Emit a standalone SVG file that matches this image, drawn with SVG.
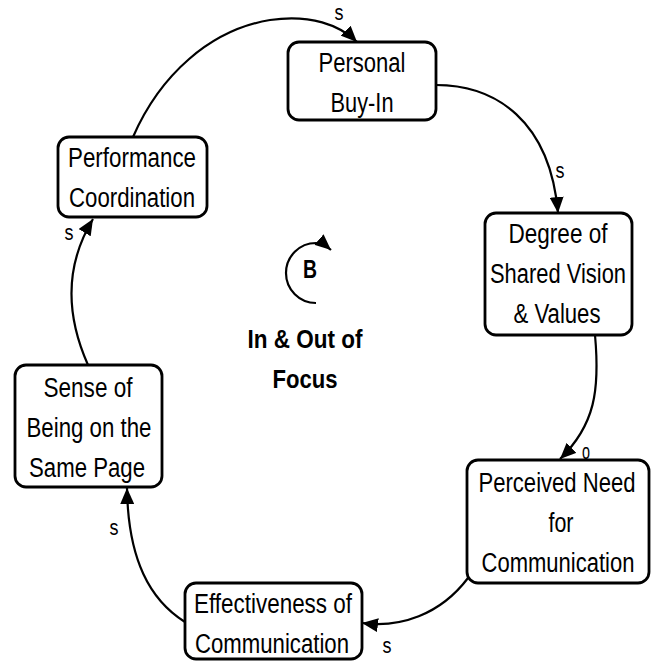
<svg xmlns="http://www.w3.org/2000/svg" width="654" height="661" viewBox="0 0 654 661">
<style>
.box{fill:#fff;stroke:#000;stroke-width:2.8}
.t{font-family:"Liberation Sans",Arial,sans-serif;font-size:28px;fill:#000;text-anchor:middle}
.c{fill:none;stroke:#000;stroke-width:2.2}
.lbl{font-family:"Liberation Sans",Arial,sans-serif;font-size:22px;fill:#000;text-anchor:middle}
.b{font-family:"Liberation Sans",Arial,sans-serif;font-size:26px;font-weight:bold;fill:#000;text-anchor:middle}
</style>
<defs>
<marker id="ah" viewBox="0 0 16 14" refX="16" refY="7" markerWidth="16" markerHeight="14" markerUnits="userSpaceOnUse" orient="auto">
<path d="M0,0 L16,7 L0,14 Z" fill="#000"/>
</marker>
</defs>
<rect width="654" height="661" fill="#fff"/>
<g id="connectors">
<path class="c" d="M133,137 C160,75 210,30 270,20 C310,14 340,25 357,42" marker-end="url(#ah)"/>
<path class="c" d="M436,85 C495,85 550,120 558,213" marker-end="url(#ah)"/>
<path class="c" d="M595,335 C600,390 595,425 560,459" marker-end="url(#ah)"/>
<path class="c" d="M468,578 C440,615 400,628 362,623" marker-end="url(#ah)"/>
<path class="c" d="M185,622 C150,600 128,560 127,488" marker-end="url(#ah)"/>
<path class="c" d="M88,365 C68,320 62,270 93,219" marker-end="url(#ah)"/>
<text class="lbl" x="339" y="20" textLength="9" lengthAdjust="spacingAndGlyphs">s</text>
<text class="lbl" x="560" y="178" textLength="9" lengthAdjust="spacingAndGlyphs">s</text>
<text class="lbl" x="586" y="459" textLength="8" lengthAdjust="spacingAndGlyphs">o</text>
<text class="lbl" x="387" y="653" textLength="9" lengthAdjust="spacingAndGlyphs">s</text>
<text class="lbl" x="114" y="535" textLength="9" lengthAdjust="spacingAndGlyphs">s</text>
<text class="lbl" x="69" y="240" textLength="9" lengthAdjust="spacingAndGlyphs">s</text>
</g>
<g id="personal-buy-in">
<rect class="box" x="288" y="42" width="148" height="78" rx="11"/>
<g transform="translate(362 0) scale(0.8 1)">
<text class="t" x="0" y="72" textLength="108.75" lengthAdjust="spacingAndGlyphs">Personal</text>
<text class="t" x="0" y="112" textLength="78.75" lengthAdjust="spacingAndGlyphs">Buy-In</text>
</g>
</g>
<g id="performance-coordination">
<rect class="box" x="58" y="137" width="149" height="80" rx="11"/>
<g transform="translate(132 0) scale(0.8 1)">
<text class="t" x="0" y="167" textLength="160" lengthAdjust="spacingAndGlyphs">Performance</text>
<text class="t" x="0" y="207" textLength="157.5" lengthAdjust="spacingAndGlyphs">Coordination</text>
</g>
</g>
<g id="shared-vision">
<rect class="box" x="485" y="213" width="147" height="122" rx="11"/>
<g transform="translate(558 0) scale(0.8 1)">
<text class="t" x="0" y="243" textLength="123.75" lengthAdjust="spacingAndGlyphs">Degree of</text>
<text class="t" x="0" y="283" textLength="170" lengthAdjust="spacingAndGlyphs">Shared Vision</text>
<text class="t" x="-1.25" y="323" textLength="108.75" lengthAdjust="spacingAndGlyphs">&amp; Values</text>
</g>
</g>
<g id="perceived-need">
<rect class="box" x="467" y="460" width="182" height="123" rx="11"/>
<g transform="translate(558 0) scale(0.8 1)">
<text class="t" x="-1.25" y="492" textLength="196.25" lengthAdjust="spacingAndGlyphs">Perceived Need</text>
<text class="t" x="3.75" y="532" textLength="31.25" lengthAdjust="spacingAndGlyphs">for</text>
<text class="t" x="0" y="572" textLength="191.25" lengthAdjust="spacingAndGlyphs">Communication</text>
</g>
</g>
<g id="effectiveness">
<rect class="box" x="185" y="583" width="177" height="76" rx="11"/>
<g transform="translate(273 0) scale(0.8 1)">
<text class="t" x="0" y="613" textLength="197.5" lengthAdjust="spacingAndGlyphs">Effectiveness of</text>
<text class="t" x="-1.25" y="653" textLength="192.5" lengthAdjust="spacingAndGlyphs">Communication</text>
</g>
</g>
<g id="same-page">
<rect class="box" x="15" y="365" width="147" height="122" rx="11"/>
<g transform="translate(88 0) scale(0.8 1)">
<text class="t" x="0" y="397" textLength="111.25" lengthAdjust="spacingAndGlyphs">Sense of</text>
<text class="t" x="1.25" y="437" textLength="156.25" lengthAdjust="spacingAndGlyphs">Being on the</text>
<text class="t" x="-1.25" y="477" textLength="145" lengthAdjust="spacingAndGlyphs">Same Page</text>
</g>
</g>
<g id="loop">
<path class="c" d="M316,303 A30,30 0 0 1 316,243 A30,30 0 0 1 331,250" marker-end="url(#ah)"/>
<text class="lbl" x="310" y="278" textLength="14" lengthAdjust="spacingAndGlyphs" style="font-size:25px;font-weight:bold">B</text>
<g transform="translate(305 0) scale(0.8 1)">
<text class="b" x="0" y="348" textLength="143.75" lengthAdjust="spacingAndGlyphs">In &amp; Out of</text>
<text class="b" x="0" y="388" textLength="81.25" lengthAdjust="spacingAndGlyphs">Focus</text>
</g>
</g>
</svg>
